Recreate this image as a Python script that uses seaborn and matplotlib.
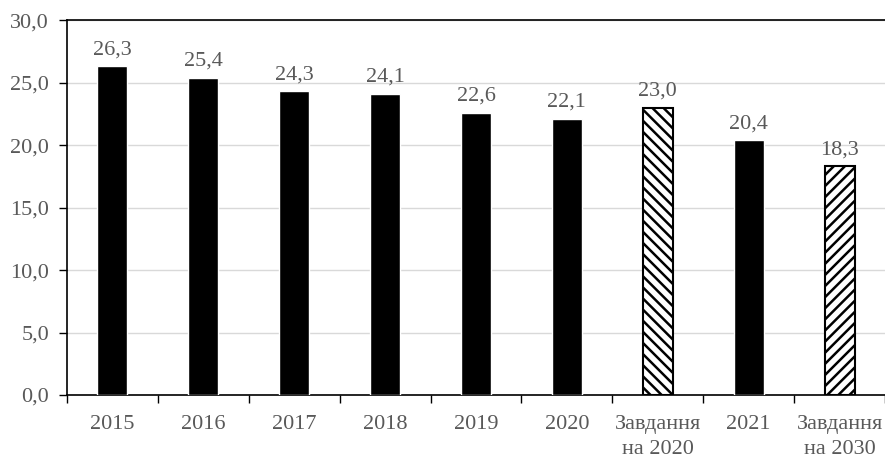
import matplotlib
matplotlib.use("Agg")
import matplotlib.pyplot as plt
import seaborn as sns
import pandas as pd
from matplotlib.ticker import FixedLocator, FuncFormatter

categories = ["2015", "2016", "2017", "2018", "2019", "2020",
              "Завдання\nна 2020", "2021", "Завдання\nна 2030"]
values = [26.3, 25.4, 24.3, 24.1, 22.6, 22.1, 23.0, 20.4, 18.3]
hatches = ["", "", "", "", "", "", "\\\\\\", "", "///"]
y_ticks = [0, 5, 10, 15, 20, 25, 30]

sns.set_theme(style="white")
plt.rcParams["font.family"] = ["Liberation Serif", "DejaVu Serif"]
plt.rcParams["hatch.linewidth"] = 1.8
plt.rcParams["hatch.color"] = "black"

text_color = "#595959"
fs = 16

df = pd.DataFrame({"category": categories, "value": values})

fig = plt.figure(figsize=(8.85, 4.57), dpi=100)
ax = fig.add_axes([0.0757, 0.1357, 0.9243, 0.820])

sns.barplot(data=df, x="category", y="value", color="black", width=0.33,
            saturation=1, ax=ax, zorder=3)

for patch, h in zip(ax.patches, hatches):
    if h:
        patch.set_facecolor("white")
        patch.set_edgecolor("black")
        patch.set_hatch(h)
        patch.set_linewidth(1.5)

for i, v in enumerate(values):
    ax.annotate(f"{v:.1f}".replace(".", ","), xy=(i, v), xytext=(0, 5),
                textcoords="offset points", ha="center", va="bottom",
                fontsize=fs, color=text_color)

ax.set_ylim(0, 30)
ax.set_xlim(-0.5, len(categories) - 0.5)
ax.yaxis.set_major_locator(FixedLocator(y_ticks))
ax.yaxis.set_major_formatter(FuncFormatter(lambda v, p: f"{v:.1f}".replace(".", ",")))
ax.grid(axis="y", color="#d9d9d9", linewidth=1, zorder=0)
ax.set_axisbelow(True)

ax.set_xlabel("")
ax.set_ylabel("")
ax.xaxis.set_minor_locator(FixedLocator([i - 0.5 for i in range(len(categories) + 1)]))
ax.tick_params(axis="x", which="major", length=0, pad=14.5, labelsize=fs,
               labelcolor=text_color)
ax.tick_params(axis="x", which="minor", bottom=True, length=6, width=1,
               color="black", direction="out")
ax.tick_params(axis="y", left=True, length=6, width=1, color="black",
               direction="out", pad=7, labelsize=fs, labelcolor=text_color)
for lbl in ax.get_xticklabels():
    lbl.set_linespacing(1.4)

for side in ["left", "bottom", "top"]:
    ax.spines[side].set_visible(True)
    ax.spines[side].set_color("black")
    ax.spines[side].set_linewidth(1.2)
ax.spines["right"].set_visible(False)

fig.savefig("out.png", dpi=100)
